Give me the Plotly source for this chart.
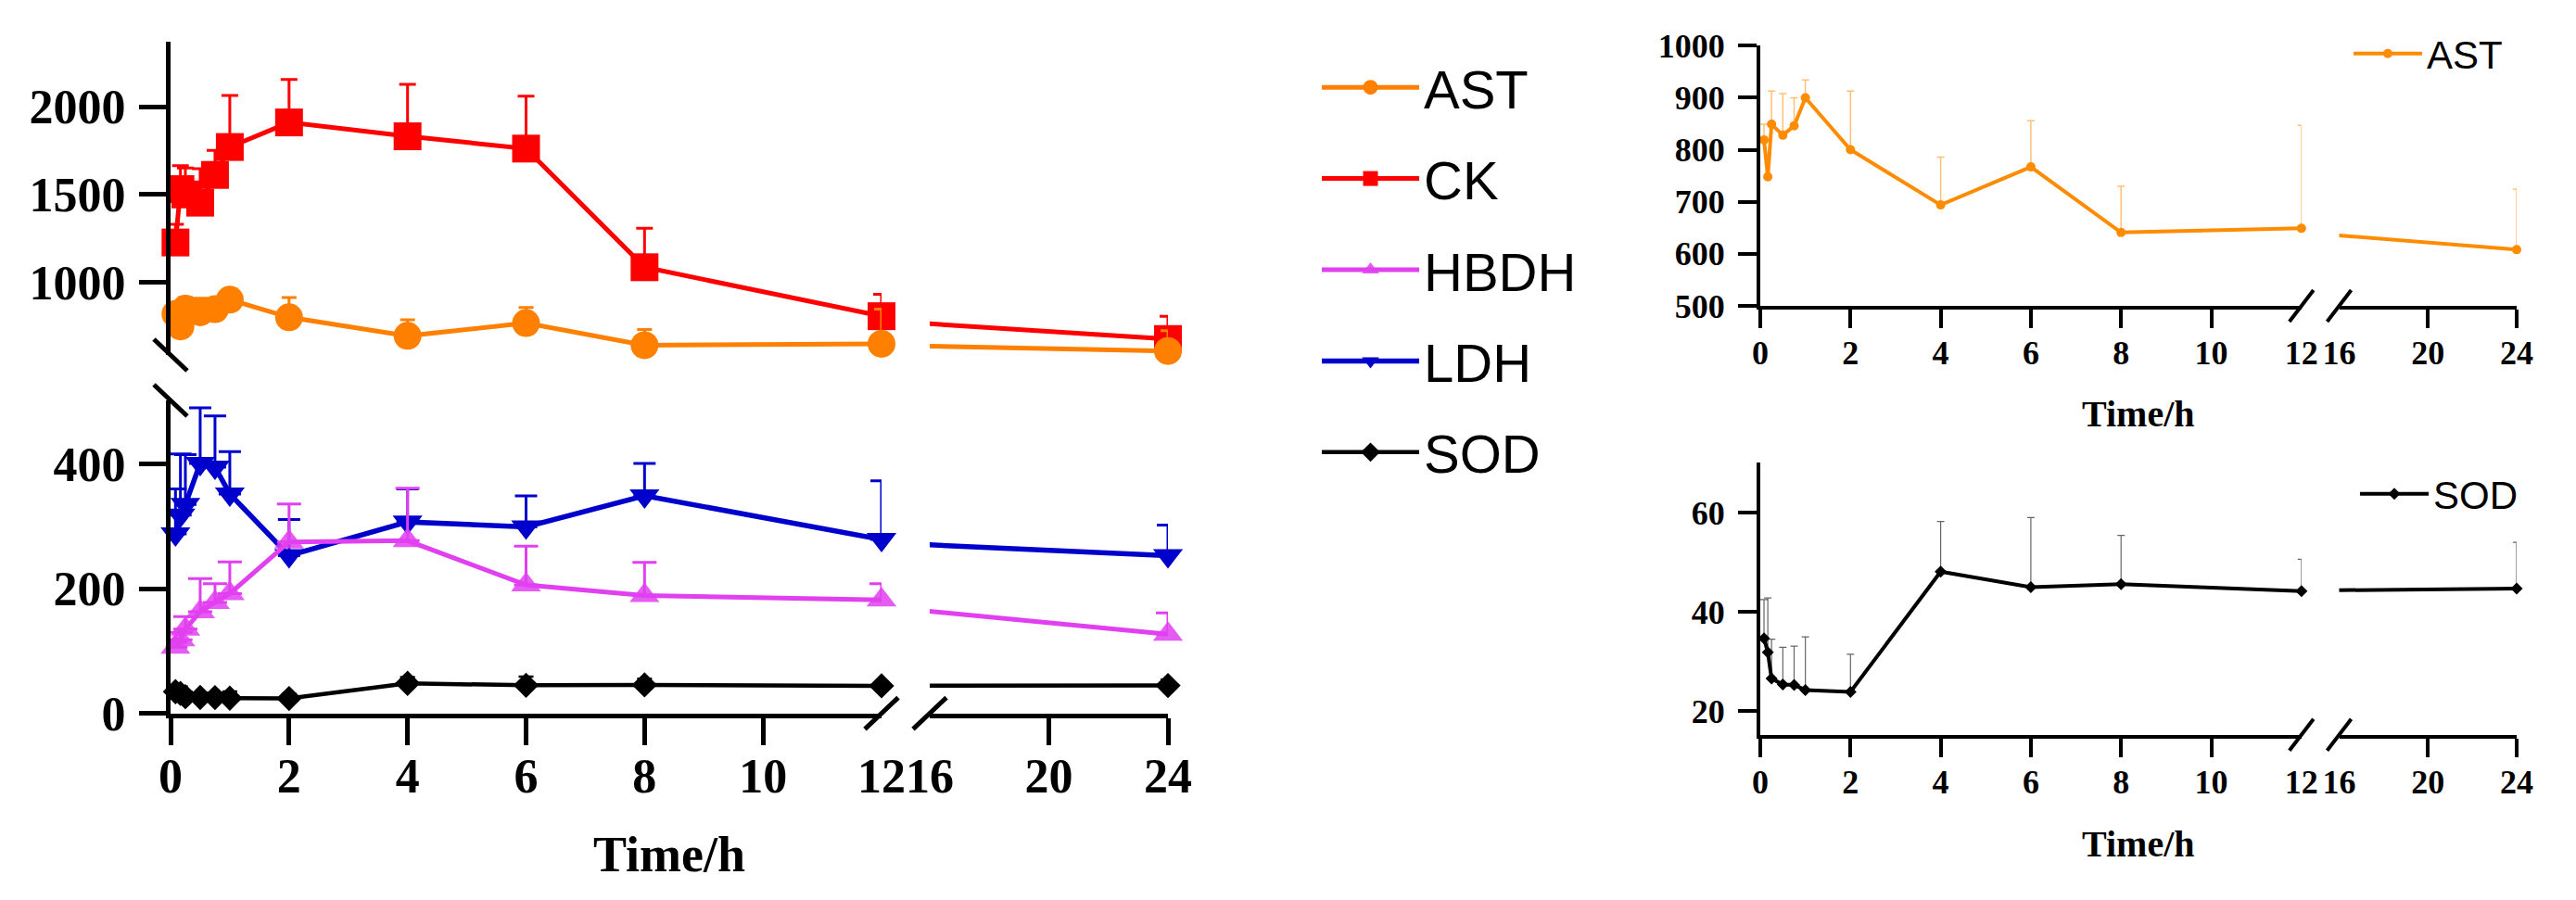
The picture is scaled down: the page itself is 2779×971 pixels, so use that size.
import plotly.graph_objects as go

# ---------------- data ----------------
time_h = [0.083, 0.167, 0.25, 0.5, 0.75, 1, 2, 4, 6, 8, 12, 24]
ast = [819, 748, 849, 828, 846, 900, 800, 694, 767, 641, 649, 608]
ast_sd = [30, 45, 64, 80, 54, 34, 113, 92, 89, 89, 198, 116]
ck = [1226, 1530, 1500, 1453, 1611, 1770, 1910, 1831, 1761, 1085, 806, 676]
ck_sd = [104, 134, 150, 193, 140, 294, 245, 296, 299, 222, 125, 130]
hbdh = [106, 118, 135, 163, 178, 192, 275, 277, 206, 189, 182, 127]
hbdh_sd = [8, 12, 20, 53, 30, 51, 61, 84, 62, 53, 26, 34]
ldh = [288, 318, 335, 401, 395, 352, 253, 307, 299, 349, 279, 253]
ldh_sd = [72, 98, 80, 89, 82, 68, 58, 53, 50, 52, 94, 49]
sod = [34.7, 31.9, 26.6, 25.4, 25.3, 24.3, 23.9, 48.1, 45.0, 45.6, 44.2, 44.7]
sod_sd = [7.8, 10.9, 7.9, 7.5, 7.8, 10.7, 7.6, 10.1, 14.0, 9.8, 6.4, 9.3]

x_left_ticks = [0, 2, 4, 6, 8, 10, 12]
x_right_ticks = [16, 20, 24]
y_low_ticks = [0, 200, 400]
y_up_ticks = [1000, 1500, 2000]
ast_ticks = [500, 600, 700, 800, 900, 1000]
sod_ticks = [20, 40, 60]

# ---------------- layout helpers ----------------
W, H = 2779, 971


def fx(p):
    return p / W


def fy(p):
    return 1 - p / H


SERIF = "Liberation Serif"
SANS = "Liberation Sans"

fig = go.Figure()


def add_series(xl, xr, ya, name, v, e, color, symbol, msize, lw, ecolor, ew, cap,
               legend, showlegend, rank, mcolor=None):
    li = [i for i, t in enumerate(time_h) if t <= 12]
    ri = [i for i, t in enumerate(time_h) if t >= 16]
    mk = dict(symbol=symbol, size=msize, color=mcolor or color, line=dict(width=0))

    def err(idx):
        return dict(type="data", symmetric=False, array=[e[i] for i in idx],
                    arrayminus=[0] * len(idx), color=ecolor, thickness=ew, width=cap)
    fig.add_trace(go.Scatter(
        x=[time_h[i] for i in li], y=[v[i] for i in li], mode="lines+markers",
        line=dict(color=color, width=lw), marker=mk, error_y=err(li),
        xaxis=xl, yaxis=ya, cliponaxis=False, name=name, legend=legend,
        showlegend=showlegend, legendrank=rank, legendgroup=legend + name))
    fig.add_trace(go.Scatter(
        x=time_h, y=v, mode="lines", line=dict(color=color, width=lw),
        xaxis=xr, yaxis=ya, showlegend=False, hoverinfo="skip"))
    fig.add_trace(go.Scatter(
        x=[time_h[i] for i in ri], y=[v[i] for i in ri], mode="markers",
        marker=mk, error_y=err(ri), xaxis=xr, yaxis=ya, cliponaxis=False,
        showlegend=False, name=name))


# main chart (draw order: SOD, LDH, HBDH, CK, AST)
add_series("x", "x2", "y", "SOD", sod, sod_sd, "#000000", "diamond", 21, 4.5,
           "#000000", 2.5, 8, "legend", True, 5)
add_series("x", "x2", "y", "LDH", ldh, ldh_sd, "#0000CC", "triangle-down", 28, 5.5,
           "#0000CC", 3, 12, "legend", True, 4)
add_series("x", "x2", "y", "HBDH", hbdh, hbdh_sd, "#E040F0", "triangle-up", 28, 5,
           "#E040F0", 3, 13, "legend", True, 3, mcolor="rgba(224,64,240,0.85)")
add_series("x", "x2", "y2", "CK", ck, ck_sd, "#FF0000", "square", 30, 5,
           "#FF0000", 3, 9, "legend", True, 2)
add_series("x", "x2", "y2", "AST", ast, ast_sd, "#FF8000", "circle", 30, 5,
           "#FF8000", 3, 8, "legend", True, 1)

# right panels
add_series("x3", "x4", "y3", "AST", ast, ast_sd, "#FF8C00", "circle", 10, 4,
           "rgba(255,140,0,0.55)", 1.5, 4, "legend2", True, 1)
add_series("x5", "x6", "y4", "SOD", sod, sod_sd, "#000000", "diamond", 10, 4,
           "rgba(0,0,0,0.6)", 1.2, 4, "legend3", True, 1)

# ---------------- axes ----------------
main_xl = [fx(184), fx(951)]
main_xr = [fx(1003), fx(1260)]
main_ylow = [fy(769.6), fy(432)]
main_yup = [fy(383), fy(45)]
rp_xl = [fx(1899), fx(2482.8)]
rp_xr = [fx(2523.5), fx(2715)]
ast_y = [fy(330), fy(49.3)]
sod_y = [fy(792.7), fy(499.3)]

main_tf = dict(family=SERIF, size=52, color="black", weight="bold")
rp_tf = dict(family=SERIF, size=36, color="black", weight="bold")


def xaxis_def(dom, rng, anchor, labels, marks, lw, tl, tw, tf, standoff):
    return dict(domain=dom, range=rng, anchor=anchor, showline=True, linewidth=lw,
                linecolor="black", showgrid=False, zeroline=False, automargin=False,
                tickmode="array", tickvals=labels, ticktext=[str(v) for v in labels],
                ticks="", tickfont=tf, ticklabelstandoff=standoff,
                minor=dict(tickmode="array", tickvals=marks, ticks="outside",
                           ticklen=tl, tickwidth=tw, tickcolor="black", showgrid=False),
                fixedrange=True)


def yaxis_def(dom, rng, anchor, ticks, lw, tl, tw, tf, standoff):
    return dict(domain=dom, range=rng, anchor=anchor, showline=True, linewidth=lw,
                linecolor="black", showgrid=False, zeroline=False, automargin=False,
                tickmode="array", tickvals=ticks, ticks="outside", ticklen=tl,
                tickwidth=tw, tickcolor="black", tickfont=tf,
                ticklabelstandoff=standoff, fixedrange=True)


fig.update_layout(
    template="none",
    xaxis=xaxis_def(main_xl, [0, 12], "y", x_left_ticks, x_left_ticks[:-1], 5, 29, 5, main_tf, 18),
    xaxis2=xaxis_def(main_xr, [16, 24], "y", x_right_ticks, x_right_ticks[1:], 5, 29, 5, main_tf, 18),
    yaxis=yaxis_def(main_ylow, [0, 502], "x", y_low_ticks, 5, 29, 5, main_tf, 4),
    yaxis2=yaxis_def(main_yup, [585, 2370], "x", y_up_ticks, 5, 29, 5, main_tf, 4),
    xaxis3=xaxis_def(rp_xl, [0, 12], "y3", x_left_ticks, x_left_ticks[:-1], 4, 20, 3.5, rp_tf, 16),
    xaxis4=xaxis_def(rp_xr, [16, 24], "y3", x_right_ticks, x_right_ticks[1:], 4, 20, 3.5, rp_tf, 16),
    yaxis3=yaxis_def(ast_y, [500, 1000], "x3", ast_ticks, 4, 20, 3.5, rp_tf, 7),
    xaxis5=xaxis_def(rp_xl, [0, 12], "y4", x_left_ticks, x_left_ticks[:-1], 4, 20, 3.5, rp_tf, 16),
    xaxis6=xaxis_def(rp_xr, [16, 24], "y4", x_right_ticks, x_right_ticks[1:], 4, 20, 3.5, rp_tf, 16),
    yaxis4=yaxis_def(sod_y, [15.3, 70], "x5", sod_ticks, 4, 20, 3.5, rp_tf, 7),
)

# ---------------- axis break marks (paper-anchored, pixel-sized) ----------------
shapes = []


def brk(xa, ya, dx, dy, w):
    shapes.append(dict(type="line", xref="paper", yref="paper", xsizemode="pixel",
                       ysizemode="pixel", xanchor=xa, yanchor=ya,
                       x0=-dx, x1=dx, y0=-dy, y1=dy, line=dict(color="black", width=w)))


# x breaks ("/")
brk(main_xl[1], main_ylow[0], 18, 17, 5)
brk(main_xr[0], main_ylow[0], 18, 17, 5)
brk(rp_xl[1], ast_y[0], 13, 17, 4)
brk(rp_xr[0], ast_y[0], 13, 17, 4)
brk(rp_xl[1], sod_y[0], 13, 17, 4)
brk(rp_xr[0], sod_y[0], 13, 17, 4)
# y breaks ("\")
brk(main_xl[0], main_yup[0], 18, -17, 5)
brk(main_xl[0], main_ylow[1], 18, -17, 5)

title_font_main = dict(family=SERIF, size=54, color="black", weight="bold")
title_font_rp = dict(family=SERIF, size=40, color="black", weight="bold")

annotations = [
    dict(text="Time/h", xref="paper", yref="paper", x=(main_xl[0] + main_xr[1]) / 2,
         y=fy(922), showarrow=False, font=title_font_main, xanchor="center", yanchor="middle"),
    dict(text="Time/h", xref="paper", yref="paper", x=(rp_xl[0] + rp_xr[1]) / 2,
         y=fy(447), showarrow=False, font=title_font_rp, xanchor="center", yanchor="middle"),
    dict(text="Time/h", xref="paper", yref="paper", x=(rp_xl[0] + rp_xr[1]) / 2,
         y=fy(910), showarrow=False, font=title_font_rp, xanchor="center", yanchor="middle"),
]

fig.update_layout(
    width=W, height=H, margin=dict(l=0, r=0, t=0, b=0, pad=0),
    paper_bgcolor="white", plot_bgcolor="white", showlegend=True,
    shapes=shapes, annotations=annotations,
    legend=dict(x=fx(1421), y=fy(50), xanchor="left", yanchor="top",
                font=dict(family=SANS, size=58, color="black"),
                itemwidth=105, tracegroupgap=20, bgcolor="rgba(0,0,0,0)"),
    legend2=dict(x=fx(2534), y=fy(24), xanchor="left", yanchor="top",
                 font=dict(family=SANS, size=42, color="black"), itemwidth=74,
                 bgcolor="rgba(0,0,0,0)"),
    legend3=dict(x=fx(2541), y=fy(499), xanchor="left", yanchor="top",
                 font=dict(family=SANS, size=42, color="black"), itemwidth=74,
                 bgcolor="rgba(0,0,0,0)"),
)

fig.write_html("out.html", config={"displayModeBar": False},
               post_script="document.body.style.margin='0';")
